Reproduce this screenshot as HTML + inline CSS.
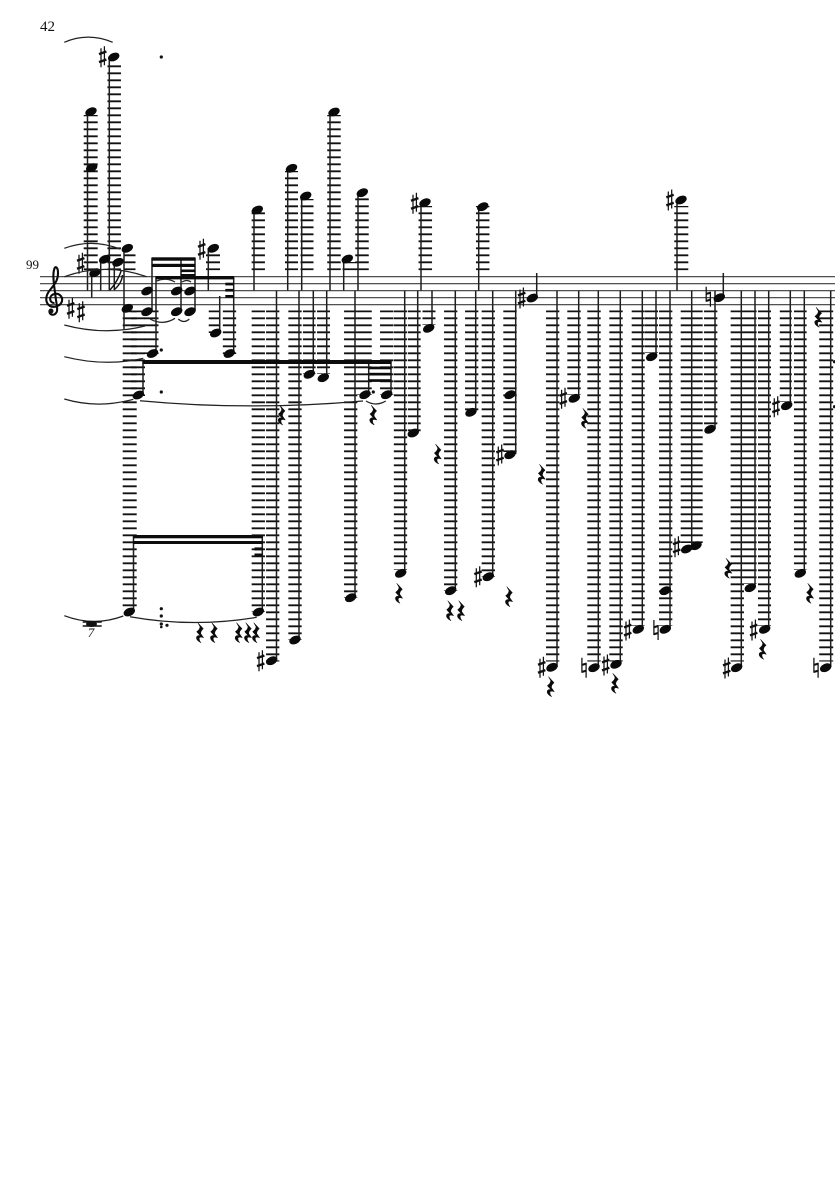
<!DOCTYPE html>
<html><head><meta charset="utf-8"><title>Score</title>
<style>
html,body{margin:0;padding:0;background:#fff}
svg{display:block}
.st{stroke:#3a3a3a;stroke-width:1.1;fill:none}
.l path{fill:none;stroke:#111;stroke-dasharray:1.9 5.1;stroke-dashoffset:.15}
.sm{fill:none;stroke:#1e1e1e;stroke-width:1.5}
.sl{fill:none;stroke:#222;stroke-width:1.25}
text{font-family:"Liberation Serif",serif;fill:#111}
</style></head><body>
<svg width="835" height="1181" viewBox="0 0 835 1181" xmlns="http://www.w3.org/2000/svg">
<defs>
<ellipse id="h" rx="6" ry="4" transform="rotate(-25)" fill="#0a0a0a"/>
<g id="s" fill="none" stroke="#111"><path d="M-1.7-8.5V10.5M1.7-10.5V8.5" stroke-width="1.25"/><path d="M-3.7-2.6L3.7-5.2M-3.7 5.4L3.7 2.8" stroke-width="2.4"/></g>
<g id="n" fill="none" stroke="#111"><path d="M-2.1-10V5M2.1-5V10" stroke-width="1.25"/><path d="M-2-2.8L2-4M-2 4.2L2 3" stroke-width="2.1"/></g>
<path id="r" fill="#0a0a0a" stroke="#0a0a0a" stroke-width=".5" d="M-2.2-10L3.4-4Q.4-1.5 .8 1L3.6 5Q-.8 3.5-.8 6Q-.8 8 1 10Q-4.5 7.5-3.4 4Q-2.2 2.3 .2 3L-3.4-1Q0-3.5 0-6Z"/>
</defs>
<rect width="835" height="1181" fill="#fff"/>
<text x="40" y="31" font-size="15">42</text>
<text x="26" y="269" font-size="13">99</text>

<path class="st" d="M40 276.7H835M40 283.7H835M40 290.7H835M40 297.7H835M40 304.7H835"/>

<g class="l">
<path stroke-width="14" d="M90.7 270.1V115"/>
<path stroke-width="13.5" d="M114.2 270.1V62"/>
<path stroke-width="12" d="M129.5 270.1V251"/>
<path stroke-width="14" d="M213 270.1V252"/>
<path stroke-width="13.3" d="M258.3 270.1V212"/>
<path stroke-width="13" d="M291.5 270.1V171"/>
<path stroke-width="13" d="M307 270.1V199"/>
<path stroke-width="13.5" d="M334 270.1V115"/>
<path stroke-width="13" d="M349 270.1V262"/>
<path stroke-width="13.5" d="M362 270.1V197"/>
<path stroke-width="13.5" d="M425.3 270.1V206"/>
<path stroke-width="13.5" d="M482.7 270.1V206"/>
<path stroke-width="14" d="M681.3 270.1V206"/>

<path stroke-width="14" d="M129.7 310.5V608"/>
<path stroke-width="14" d="M138 310.5V396"/>
<path stroke-width="14" d="M151.5 310.5V354"/>
<path stroke-width="11.5" d="M214.5 310.5V333"/>
<path stroke-width="13.3" d="M229.5 310.5V354"/>
<path stroke-width="13.3" d="M258.3 310.5V612"/>
<path stroke-width="13.3" d="M272.7 310.5V661.5"/>
<path stroke-width="13.3" d="M295 310.5V640"/>
<path stroke-width="12.7" d="M309.3 310.5V374"/>
<path stroke-width="13" d="M323.5 310.5V374"/>
<path stroke-width="13.3" d="M350.7 310.5V598"/>
<path stroke-width="14.5" d="M364.5 310.5V395"/>
<path stroke-width="13.3" d="M386.7 310.5V395"/>
<path stroke-width="13.3" d="M400.5 310.5V570"/>
<path stroke-width="12.7" d="M414.3 310.5V433"/>
<path stroke-width="13" d="M429 310.5V325"/>
<path stroke-width="13.3" d="M450.7 310.5V591"/>
<path stroke-width="13.3" d="M471.7 310.5V412"/>
<path stroke-width="13.3" d="M488.3 310.5V577"/>
<path stroke-width="13.4" d="M510 310.5V452"/>
<path stroke-width="13.3" d="M552.7 310.5V661.5"/>
<path stroke-width="13.4" d="M574 310.5V395"/>
<path stroke-width="13.4" d="M594 310.5V661.5"/>
<path stroke-width="13.4" d="M616 310.5V661.5"/>
<path stroke-width="13" d="M638.2 310.5V626"/>
<path stroke-width="13" d="M651.5 310.5V353"/>
<path stroke-width="13.3" d="M665.7 310.5V626"/>
<path stroke-width="22" d="M691.7 310.5V543"/>
<path stroke-width="13.3" d="M710.7 310.5V426"/>
<path stroke-width="13.3" d="M737.3 310.5V661.5"/>
<path stroke-width="12.7" d="M750.3 310.5V584"/>
<path stroke-width="13" d="M764.5 310.5V626"/>
<path stroke-width="12" d="M785.8 310.5V402"/>
<path stroke-width="12.7" d="M800.3 310.5V570"/>
<path stroke-width="14" d="M826.2 310.5V661.5"/>
</g>

<path class="sm" d="M87.5 112V290.5M91.7 272V297.5M100.7 259V290.5M109.3 57V290.5M114.3 262V290M124 248V329
M152 258V311M181 258V311M195 258V311M156 277V354M233.7 277V354M219.7 296V333M208.3 248V290.5
M143 361V395M368.7 361V395M391 361V395M133.5 535V612M262.3 535V612
M254 210V290.5M276.5 290.5V660M287.7 168V290.5M301.7 196V290.5M299 290.5V640M313.3 290.5V374M326.7 290.5V377M330 112V290.5M343.7 259V290.5M358 193V290.5M355 290.5V597
M404.7 290.5V573M417.7 290.5V433M432 290.5V328M421 203V290.5M455.3 290.5V590M475.7 290.5V412M478.7 207V290.5M492.7 290.5V576M515.7 290.5V454M536.7 273V298
M557 290.5V667M578.7 290.5V398M598.3 290.5V667M620.3 290.5V664M642.3 290.5V629M656 290.5V356M670 290.5V629M677 200V290.5M691.7 290.5V547M723.3 273V297M715 290.5V429M741.3 290.5V667M755 290.5V587M768.7 290.5V629M790.3 290.5V405M804.3 290.5V573M830.7 290.5V667"/>

<path fill="none" stroke="#111" stroke-width="1.4" d="M110 290Q118 281 121.5 270M114 290Q122 283 122.5 275"/>

<g fill="#0c0c0c">
<rect x="151.5" y="257.3" width="44" height="3.4"/>
<rect x="151.5" y="263.8" width="44" height="3.2"/>
<rect x="181" y="269.5" width="14.5" height="2.6"/>
<rect x="181" y="274" width="14.5" height="2"/>
<rect x="155.5" y="276" width="78.5" height="3.4"/>
<rect x="225.3" y="282.7" width="8.4" height="2.7"/>
<rect x="225.3" y="288.9" width="8.4" height="2.7"/>
<rect x="225.3" y="295" width="8.4" height="2.7"/>
<rect x="142.5" y="360" width="249" height="4"/>
<rect x="368.5" y="366.6" width="23" height="2.7"/>
<rect x="368.5" y="372.8" width="23" height="2.7"/>
<rect x="368.5" y="379.2" width="23" height="2.7"/>
<rect x="133.2" y="535" width="129.5" height="3.3"/>
<rect x="133.2" y="541" width="129.5" height="3"/>
<rect x="254.5" y="547.4" width="8" height="3"/>
<rect x="254.5" y="553.5" width="8" height="3"/>
</g>

<g>
<use href="#h" x="91" y="111.7"/><use href="#h" x="91.7" y="167.7"/><use href="#h" x="113.7" y="57"/>
<use href="#h" x="95" y="272.7"/><use href="#h" x="104.7" y="259.3"/><use href="#h" x="118" y="262.3"/>
<use href="#h" x="127.3" y="248.3"/><use href="#h" x="127.3" y="308.3"/>
<use href="#h" x="147" y="291"/><use href="#h" x="147" y="311.7"/>
<use href="#h" x="176.7" y="291"/><use href="#h" x="190" y="291"/><use href="#h" x="176.7" y="311.7"/><use href="#h" x="190" y="311.7"/>
<use href="#h" x="152.5" y="353.5"/><use href="#h" x="229.3" y="353.5"/><use href="#h" x="215.7" y="333"/><use href="#h" x="213.3" y="248.3"/>
<use href="#h" x="138.3" y="395"/><use href="#h" x="365" y="394.7"/><use href="#h" x="386.7" y="394.7"/>
<use href="#h" x="129.3" y="612"/><use href="#h" x="258.3" y="612"/><use href="#h" x="257.3" y="210"/>
<use href="#h" x="271.7" y="660.7"/><use href="#h" x="291.5" y="168.3"/><use href="#h" x="305.7" y="196"/><use href="#h" x="295" y="640"/>
<use href="#h" x="309.3" y="374.3"/><use href="#h" x="323.3" y="377.7"/><use href="#h" x="334" y="112"/><use href="#h" x="347.3" y="259"/><use href="#h" x="362.3" y="192.7"/><use href="#h" x="350.7" y="597.7"/>
<use href="#h" x="400.7" y="573.3"/><use href="#h" x="413.3" y="433"/><use href="#h" x="428.7" y="328.3"/><use href="#h" x="425" y="202.7"/>
<use href="#h" x="450.7" y="590.7"/><use href="#h" x="471" y="412.3"/><use href="#h" x="482.7" y="206.7"/><use href="#h" x="488.3" y="576.7"/>
<use href="#h" x="510" y="394.7"/><use href="#h" x="510" y="454.7"/><use href="#h" x="532.3" y="298"/><use href="#h" x="552" y="667.3"/>
<use href="#h" x="574.3" y="398.3"/><use href="#h" x="594" y="667.7"/><use href="#h" x="616" y="664.3"/><use href="#h" x="638.3" y="629.3"/>
<use href="#h" x="651.7" y="356.7"/><use href="#h" x="665.3" y="629.3"/><use href="#h" x="665.3" y="590.7"/><use href="#h" x="681" y="200"/>
<use href="#h" x="686.7" y="549"/><use href="#h" x="696" y="545.7"/><use href="#h" x="719.3" y="297.7"/><use href="#h" x="710" y="429.3"/>
<use href="#h" x="736.7" y="667.7"/><use href="#h" x="750.3" y="587.7"/><use href="#h" x="764.7" y="629.3"/><use href="#h" x="786.7" y="405.7"/>
<use href="#h" x="800.3" y="573.3"/><use href="#h" x="825.7" y="667.7"/>
</g>

<g>
<use href="#s" x="70.7" y="308.3"/><use href="#s" x="81" y="311.7"/><use href="#s" x="80.7" y="263.3"/>
<use href="#s" x="102.7" y="56.7"/><use href="#s" x="201.7" y="249.3"/><use href="#s" x="260.7" y="660.7"/>
<use href="#s" x="414.7" y="203.3"/><use href="#s" x="478" y="576.7"/><use href="#s" x="500" y="455"/><use href="#s" x="521.7" y="298"/>
<use href="#s" x="541.7" y="667.3"/><use href="#s" x="563.3" y="398.3"/><use href="#s" x="605.7" y="665"/><use href="#s" x="627.7" y="630"/>
<use href="#s" x="670" y="200"/><use href="#s" x="676.7" y="546.7"/><use href="#s" x="726.7" y="668"/><use href="#s" x="753.7" y="630"/><use href="#s" x="776" y="406.7"/>
<use href="#n" x="584" y="667.7"/><use href="#n" x="656" y="630"/><use href="#n" x="708.3" y="296.7"/><use href="#n" x="816" y="667.7"/>
</g>

<g>
<use href="#r" x="281.7" y="415"/><use href="#r" x="200" y="632.7"/><use href="#r" x="214" y="632.7"/><use href="#r" x="238.7" y="632.7"/><use href="#r" x="248" y="632.7"/><use href="#r" x="256" y="632.7"/>
<use href="#r" x="373.3" y="415"/><use href="#r" x="437.7" y="454"/><use href="#r" x="399" y="593.3"/><use href="#r" x="450" y="610.7"/><use href="#r" x="461" y="610.7"/>
<use href="#r" x="509" y="596.7"/><use href="#r" x="541.7" y="474.3"/><use href="#r" x="550.7" y="686.7"/><use href="#r" x="585" y="418.3"/>
<use href="#r" x="818.3" y="317.3"/><use href="#r" x="615" y="683.3"/><use href="#r" x="728.3" y="568.3"/><use href="#r" x="762.7" y="649.3"/><use href="#r" x="810" y="593.3"/>
</g>

<g fill="#111">
<circle cx="161.3" cy="57" r="1.6"/><circle cx="161.3" cy="350" r="1.6"/><circle cx="161.3" cy="392" r="1.6"/>
<circle cx="373.3" cy="392" r="1.6"/>
<circle cx="161.3" cy="608.7" r="1.6"/><circle cx="161.3" cy="616" r="1.6"/><circle cx="161.3" cy="624" r="1.6"/><circle cx="161.3" cy="627" r="1.3"/><circle cx="167" cy="625.3" r="1.6"/>
<circle cx="834.5" cy="361.7" r="1.6"/><circle cx="834.5" cy="406.7" r="1.6"/>
</g>

<path class="sl" d="M64.3 42.3Q88 32 112.7 42.3
M64.3 248.3Q92 238 120 249
M64.3 276.7Q105 262 146.7 276.7
M64.3 325Q105 336 145 326
M64.3 356.7Q105 367 143.3 358.3
M64.3 399Q98 409 133.3 399.3
M140 400.7Q250 411 363 401
M64.3 615.7Q94 627 123.3 616
M130 616.7Q193 628 256.7 617.3
M150 319Q163 326 175 318.3
M178.3 319Q184 324 189.3 319
M156.7 281Q166 277 175 282
M182 282Q187 279 191 282
M366 401Q376 407 385.7 401"/>

<path fill="none" stroke="#0a0a0a" stroke-width="2.1" d="M54.5 303C49.5 303 48.5 296.5 53 294.5C58.5 292 63 296.5 62 301C61 306 54 308 50 306C45 303 45 296 50 290C54 285 58 281 58 273C58 267 55 265 54 270C52.5 276 54 285 56 300C57 306 58 311 56 313C54 316 48.5 315 49.5 310.5"/>
<circle cx="51" cy="311" r="2.5" fill="#111"/>

<path stroke="#111" stroke-width="1.5" fill="none" d="M82.7 622H101.7M82.7 626H101.7"/>
<ellipse cx="91.5" cy="624" rx="5.5" ry="3" fill="#111"/>
<text x="91" y="637" font-size="13" font-style="italic" text-anchor="middle">7</text>
</svg>
</body></html>
